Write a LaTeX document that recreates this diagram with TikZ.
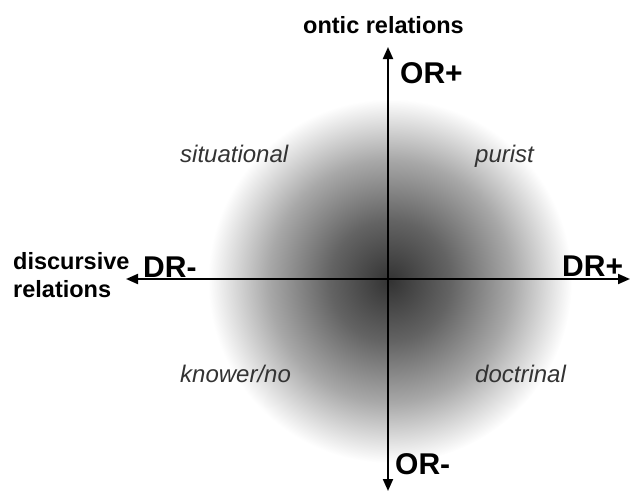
\documentclass[tikz,border=0pt]{standalone}
\usepackage{fontspec}
\setmainfont{Liberation Sans}
\usetikzlibrary{arrows.meta}
\pgfdeclareradialshading{blob}{\pgfpoint{0bp}{0bp}}{color(0bp)=(black!80); color(8.3bp)=(black!61); color(16.7bp)=(black!34); color(25bp)=(white); color(50bp)=(white)}
\tikzset{
  axis/.style={line width=2pt, {Triangle[length=12pt,width=10pt]}-{Triangle[length=12pt,width=10pt]}},
  pole/.style={font=\bfseries\fontsize{30}{32}\selectfont, inner sep=0pt, anchor=base west},
  axlabel/.style={font=\bfseries\fontsize{23.5}{28}\selectfont, inner sep=0pt},
  quad/.style={font=\itshape\fontsize{24}{28}\selectfont, text=black!80, inner sep=0pt, anchor=base west}
}
\begin{document}
\begin{tikzpicture}[x=1pt,y=-1pt]
\useasboundingbox (0,0) rectangle (633,493);
\shade[shading=blob] (390,281) circle[radius=182];
\coordinate (l) at (126,279);
\coordinate (r) at (630,279);
\coordinate (t) at (388,47);
\coordinate (b) at (388,491);
\draw[axis] (l) -- (r);
\draw[axis] (b) -- (t);
\node[axlabel, anchor=base west] (ontic) at (303,33) {ontic relations};
\node[axlabel, anchor=west, align=left] (disc) at (13,275) {discursive\\relations};
\node[pole] (orp) at (400,83) {OR+};
\node[pole] (orm) at (395,474) {OR-};
\node[pole] (drm) at (143,277) {DR-};
\node[pole] (drp) at (562,276) {DR+};
\node[quad] (sit) at (180,162) {situational};
\node[quad] (pur) at (475,162) {purist};
\node[quad] (kno) at (180,382) {knower/no};
\node[quad] (doc) at (475,382) {doctrinal};
\end{tikzpicture}
\end{document}
